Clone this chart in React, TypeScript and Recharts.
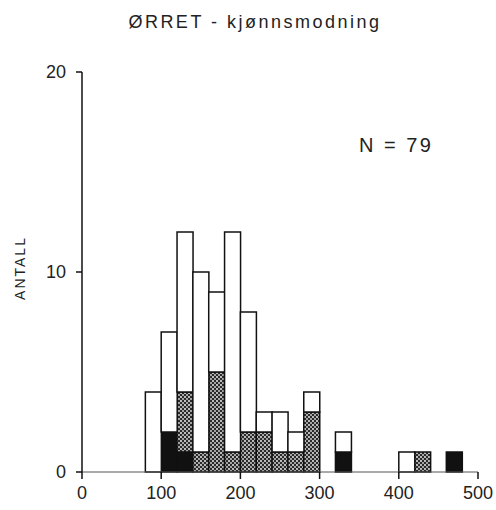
import React from "react";
import { BarChart, Bar, XAxis, YAxis } from "recharts";

// length classes (mm), bin start, 20 mm wide
const binStarts = [80, 100, 120, 140, 160, 180, 200, 220, 240, 260, 280, 300, 320, 340, 360, 380, 400, 420, 440, 460];
const immature = [4, 5, 8, 9, 4, 11, 6, 1, 2, 1, 1, 0, 1, 0, 0, 0, 1, 0, 0, 0];
const maturing = [0, 0, 3, 1, 5, 1, 2, 2, 1, 1, 3, 0, 0, 0, 0, 0, 0, 1, 0, 0];
const mature = [0, 2, 1, 0, 0, 0, 0, 0, 0, 0, 0, 0, 1, 0, 0, 0, 0, 0, 0, 1];

const xTicks = [0, 100, 200, 300, 400, 500];
const yTicks = [0, 10, 20];

const data = binStarts.map((s, i) => ({
  mid: s + 10,
  mature: mature[i],
  maturing: maturing[i],
  immature: immature[i],
}));

const font = "'Liberation Sans', Arial, sans-serif";
const tickStyle = { fontSize: 18, fill: "#222", fontFamily: font };

export default function App() {
  return (
    <div style={{ position: "absolute", left: 8, top: 8, width: 488, height: 494 }}>
      <BarChart
        width={488}
        height={494}
        data={data}
        margin={{ top: 64, right: 18, left: 34, bottom: 0 }}
        barCategoryGap={0}
        barGap={0}
      >
        <defs>
          <pattern id="dots" width="4" height="4" patternUnits="userSpaceOnUse">
            <rect width="4" height="4" fill="#2a2a2a" />
            <circle cx="1" cy="1" r="0.9" fill="#fff" />
            <circle cx="3" cy="3" r="0.9" fill="#ddd" />
          </pattern>
        </defs>
        <XAxis
          dataKey="mid"
          type="number"
          domain={[0, 500]}
          ticks={xTicks}
          height={30}
          tickSize={7}
          tickMargin={7}
          interval={0}
          axisLine={{ stroke: "#555", strokeWidth: 1 }}
          tickLine={{ stroke: "#111", strokeWidth: 1.5 }}
          tick={tickStyle}
        />
        <YAxis
          width={40}
          domain={[0, 20]}
          ticks={yTicks}
          tickSize={6}
          tickMargin={10}
          axisLine={{ stroke: "#111", strokeWidth: 1.5 }}
          tickLine={{ stroke: "#111", strokeWidth: 1.5 }}
          tick={tickStyle}
        />
        <Bar dataKey="mature" stackId="a" fill="#111" stroke="#111" strokeWidth={1.5} isAnimationActive={false} />
        <Bar dataKey="maturing" stackId="a" fill="url(#dots)" stroke="#111" strokeWidth={1.5} isAnimationActive={false} />
        <Bar dataKey="immature" stackId="a" fill="#fff" stroke="#111" strokeWidth={1.5} isAnimationActive={false} />
      </BarChart>
      <svg
        width={488}
        height={494}
        style={{ position: "absolute", left: 0, top: 0, pointerEvents: "none" }}
      >
        <text x={247} y={20} textAnchor="middle" fontSize={18} letterSpacing={2.5} fill="#222" fontFamily={font}>
          ØRRET - kjønnsmodning
        </text>
        <text x={351} y={144} fontSize={20} letterSpacing={2.5} fill="#222" fontFamily={font}>
          N = 79
        </text>
        <text
          x={17}
          y={260}
          textAnchor="middle"
          fontSize={14}
          letterSpacing={2}
          fill="#222"
          fontFamily={font}
          transform="rotate(-90 17 260)"
        >
          ANTALL
        </text>
      </svg>
    </div>
  );
}
